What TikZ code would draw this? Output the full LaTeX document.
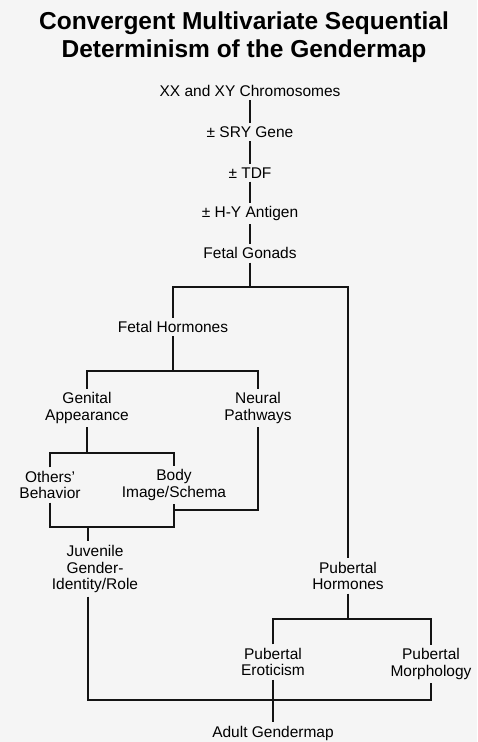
\documentclass[tikz,border=0pt]{standalone}
\usepackage{fontspec}
\setmainfont{Liberation Sans}
\begin{document}
\begin{tikzpicture}[x=1pt,y=1pt,
  lbl/.style={font=\fontsize{15.5}{16.7}\selectfont, align=center, inner sep=3.5pt},
  ttl/.style={font=\bfseries\fontsize{24.5}{28}\selectfont, align=center, inner sep=0pt},
  conn/.style={line width=1.8pt, black!92}]
\fill[black!4] (0,0) rectangle (477,-742);
\useasboundingbox (0,0) rectangle (477,-742);
\node[ttl] (title) at (244,-37) {Convergent Multivariate Sequential\\Determinism of the Gendermap};
\node[lbl] (xx) at (250,-91) {XX and XY Chromosomes};
\node[lbl] (sry) at (250,-132) {± SRY Gene};
\node[lbl] (tdf) at (250,-172.7) {± TDF};
\node[lbl] (hy) at (250,-213.5) {± H-Y Antigen};
\node[lbl] (fg) at (250,-253.2) {Fetal Gonads};
\node[lbl] (fh) at (173,-327) {Fetal Hormones};
\node[lbl] (ga) at (87,-408) {Genital\\Appearance};
\node[lbl] (np) at (258,-408) {Neural\\Pathways};
\node[lbl] (ob) at (50,-485) {Others'\\Behavior};
\node[lbl] (bi) at (174,-485) {Body\\Image/Schema};
\node[lbl] (juv) at (95,-569) {Juvenile\\Gender-\\Identity/Role};
\node[lbl] (ph) at (348,-576) {Pubertal\\Hormones};
\node[lbl] (pe) at (273,-662) {Pubertal\\Eroticism};
\node[lbl] (pm) at (431,-664) {Pubertal\\Morphology};
\node[lbl] (ag) at (273,-733) {Adult Gendermap};
\coordinate (j1) at (250,-287);
\coordinate (j2) at (173,-371);
\coordinate (j3) at (87,-453);
\coordinate (j4) at (88,-527);
\coordinate (jb) at (174,-510);
\coordinate (j7) at (348,-619);
\coordinate (j6) at (273,-700);
\draw[conn] (xx) -- (sry);
\draw[conn] (sry) -- (tdf);
\draw[conn] (tdf) -- (hy);
\draw[conn] (hy) -- (fg);
\draw[conn] (fg) -- (j1);
\draw[conn] (fh) |- (j1) -| (ph);
\draw[conn] (fh) -- (j2);
\draw[conn] (ga) |- (j2) -| (np);
\draw[conn] (ga) -- (j3);
\draw[conn] (ob) |- (j3) -| (bi);
\draw[conn] (ob) |- (j4) -| (bi);
\draw[conn] (np) |- (jb);
\draw[conn] (j4) -- (j4 |- juv.north);
\draw[conn] (j4 |- juv.south) |- (j6) -| (pm);
\draw[conn] (pe) -- (ag);
\draw[conn] (ph) -- (j7);
\draw[conn] (pe) |- (j7) -| (pm);
\end{tikzpicture}
\end{document}
